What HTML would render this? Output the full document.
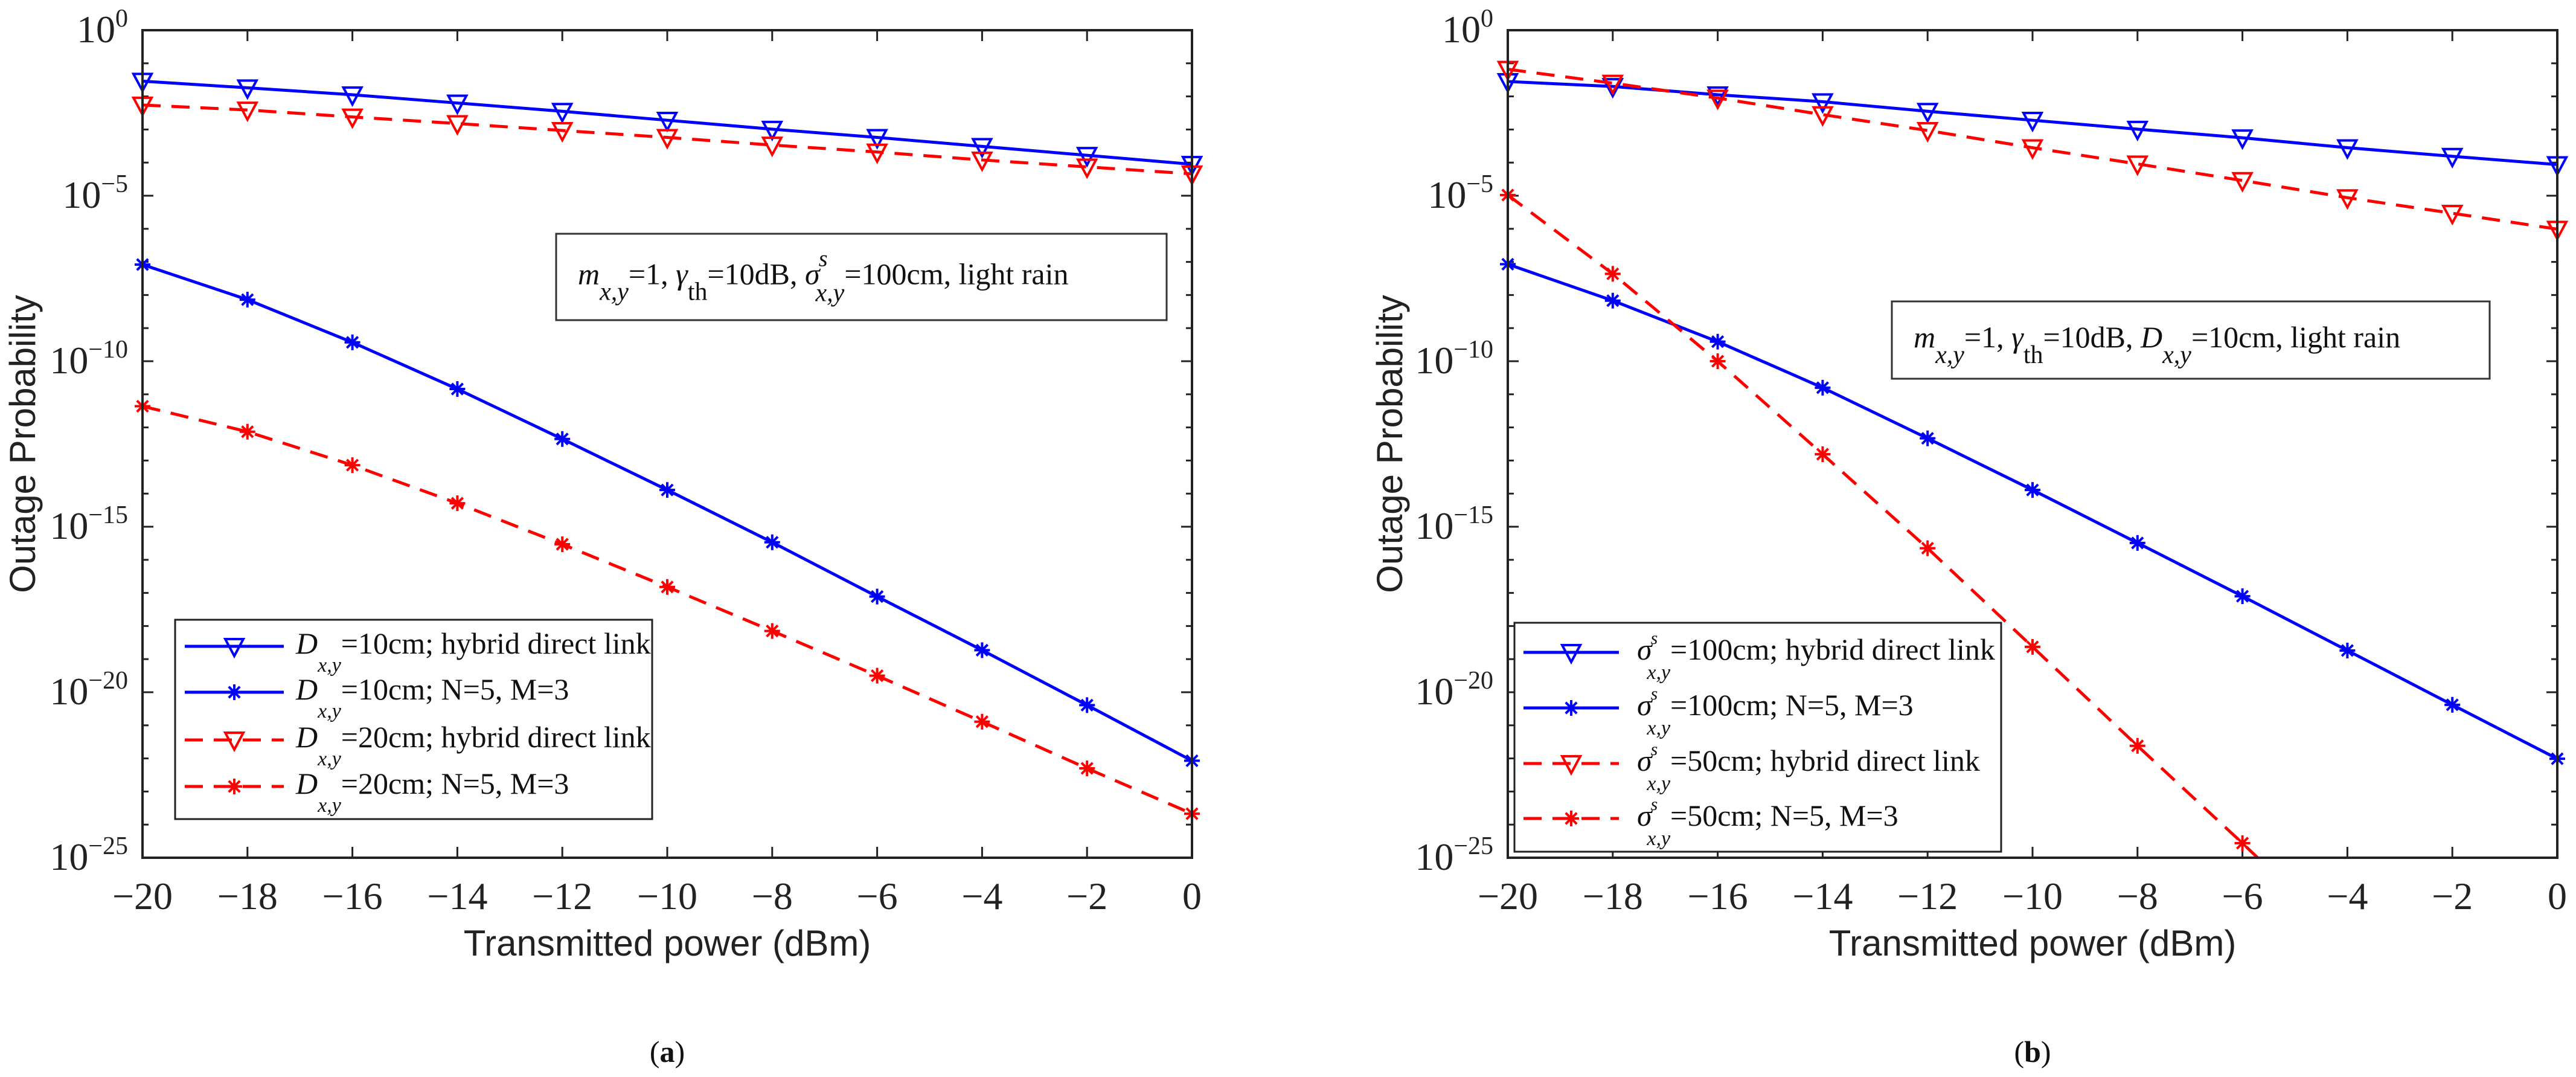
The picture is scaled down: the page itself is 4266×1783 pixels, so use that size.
<!DOCTYPE html>
<html><head><meta charset="utf-8"><style>
html,body{margin:0;background:#fff;overflow:hidden;width:4266px;height:1783px;}
svg{display:block;}
.tk{font-family:"Liberation Serif",serif;font-size:64px;fill:#222;}
.ttl{font-family:"Liberation Sans",sans-serif;font-size:60px;fill:#222;}
.lg{font-family:"Liberation Serif",serif;font-size:50px;fill:#111;}
</style></head><body>
<svg id="fig" width="4266" height="1783" viewBox="0 0 4266 1783" xmlns="http://www.w3.org/2000/svg"></svg>
<script>
const xValues = [-20,-18,-16,-14,-12,-10,-8,-6,-4,-2,0];
const xTicks = [-20,-18,-16,-14,-12,-10,-8,-6,-4,-2,0];
const yTickExps = [0,-5,-10,-15,-20,-25];
// values as -log10(P)
const aBlueTri = [1.54,1.74,1.95,2.20,2.45,2.72,2.99,3.24,3.51,3.78,4.05];
const aRedTri = [2.26,2.41,2.62,2.82,3.03,3.24,3.47,3.68,3.92,4.13,4.34];
const aBlueStar = [7.08,8.14,9.43,10.84,12.35,13.89,15.47,17.11,18.73,20.39,22.07];
const aRedStar = [11.36,12.13,13.14,14.29,15.53,16.82,18.15,19.50,20.89,22.30,23.67];
const bBlueTri = [1.55,1.70,1.95,2.16,2.45,2.72,2.99,3.25,3.55,3.81,4.06];
const bRedTri = [1.18,1.60,2.05,2.55,3.03,3.55,4.04,4.54,5.06,5.53,6.01];
const bBlueStar = [7.07,8.17,9.41,10.80,12.33,13.89,15.49,17.10,18.74,20.38,22.01];
const bRedStar = [4.98,7.36,10.0,12.81,15.65,18.63,21.62,24.56,27.6,30.6,33.6];

const NS='http://www.w3.org/2000/svg';
const svg=document.getElementById('fig');
function mk(tag,attrs,parent){const e=document.createElementNS(NS,tag);for(const k in attrs)e.setAttribute(k,attrs[k]);(parent||svg).appendChild(e);return e;}

function drawChart(id,L,R,T,B,series,legend,annot,panelLabel,ytx,ytitleX){
  const g=mk('g',{});
  
  
  const sx=v=>L+(v-(-20))/20*(R-L);
  const sy=e=>T+(e/25)*(B-T);
  const cp=mk('clipPath',{id:id+'clip'},g);
  mk('rect',{x:L-20,y:T-20,width:R-L+40,height:B-T+20},cp);
  for(const t of xTicks){
    const x=sx(t);
    mk('line',{x1:x,y1:B,x2:x,y2:B-18,stroke:'#222','stroke-width':3},g);
    mk('line',{x1:x,y1:T,x2:x,y2:T+18,stroke:'#222','stroke-width':3},g);
    const tl=mk('text',{x:x,y:B+85,'text-anchor':'middle',class:'tk'},g);
    tl.textContent=(t<0?'\u2212':'')+Math.abs(t);
    
    
  }
  for(let d=0;d<=25;d++){
    const y=sy(d);const len=d%5===0?18:10;
    mk('line',{x1:L,y1:y,x2:L+len,y2:y,stroke:'#222','stroke-width':3},g);
    mk('line',{x1:R,y1:y,x2:R-len,y2:y,stroke:'#222','stroke-width':3},g);
  }
  for(const e of yTickExps){
    const y=sy(-e);
    const tl=mk('text',{x:ytx,y:y+20,'text-anchor':'end',class:'tk'},g);
    
    
    tl.textContent='10';
    const sp=mk('tspan',{dy:-26,'font-size':'42px'},tl);sp.textContent=e===0?'0':'\u2212'+(-e);
  }
  const sg=mk('g',{'clip-path':'url(#'+id+'clip)'},g);
  for(const s of series){
    const pts=s.data.map((v,i)=>sx(xValues[i])+','+sy(v)).join(' ');
    const pl=mk('polyline',{points:pts,fill:'none',stroke:s.color,'stroke-width':5,'stroke-dasharray':s.dash?'30 18':'none'},sg);
    
    
    s.data.forEach((v,i)=>{
      const m=marker(sg,sx(xValues[i]),sy(v),s.marker,s.color);
      
      
    });
  }
  mk('rect',{x:L,y:T,width:R-L,height:B-T,fill:'none',stroke:'#222','stroke-width':4},g);
  const lg=mk('g',{},g);
  
  
  mk('rect',{x:legend.x,y:legend.y,width:legend.w,height:legend.h,fill:'#fff',stroke:'#222','stroke-width':3},lg);
  series.forEach((s,i)=>{
    const y=legend.rows[i];
    const le=mk('g',{},lg);
    
    
    mk('line',{x1:legend.sx1,y1:y,x2:legend.sx2,y2:y,stroke:s.color,'stroke-width':5,'stroke-dasharray':s.dash?'30 18':'none'},le);
    marker(le,(legend.sx1+legend.sx2)/2,y,s.marker,s.color);
    const t=mk('text',{x:legend.tx,y:y+12,class:'lg'},le);
    const a=mk('tspan',{'font-style':'italic'},t);a.textContent=legend.sym;
    if(legend.sup){const b=mk('tspan',{'font-style':'italic','font-size':'30px',dy:-26,dx:-2},t);b.textContent='s';
      const c=mk('tspan',{'font-style':'italic','font-size':'34px',dy:58,dx:-18},t);c.textContent='x,y';}
    else{const c=mk('tspan',{'font-style':'italic','font-size':'34px',dy:30,dx:0},t);c.textContent='x,y';}
    const d=mk('tspan',{dy:legend.sup?-32:-30},t);d.textContent=s.label;
  });
  const an=mk('g',{},g);
  
  
  mk('rect',{x:annot.x,y:annot.y,width:annot.w,height:annot.h,fill:'#fff',stroke:'#333','stroke-width':3},an);
  const at=mk('text',{x:annot.x+36,y:annot.y+annot.h/2+12,class:'lg','font-size':'66px'},an);
  annot.parts.forEach(p=>{const sp=mk('tspan',p.a||{},at);sp.textContent=p.t;});
  const xt=mk('text',{x:(L+R)/2,y:1582,'text-anchor':'middle',class:'ttl'},g);
  xt.textContent='Transmitted power (dBm)';
  
  
  const yx=ytitleX;
  const yt=mk('text',{x:yx,y:(T+B)/2,'text-anchor':'middle',class:'ttl',transform:'rotate(-90 '+yx+' '+(T+B)/2+')'},g);
  yt.textContent='Outage Probability';
  
  
  const pl=mk('text',{x:(L+R)/2,y:1758,'text-anchor':'middle',class:'lg','font-size':'70px'},g);
  
  
  pl.appendChild(document.createTextNode('('));
  const bb=mk('tspan',{'font-weight':'bold'},pl);bb.textContent=panelLabel;
  pl.appendChild(document.createTextNode(')'));
}
function marker(p,x,y,type,color){
  if(type==='tri'){
    return mk('polygon',{points:(x-15)+','+(y-12)+' '+(x+15)+','+(y-12)+' '+x+','+(y+16),fill:'none',stroke:color,'stroke-width':4},p);
  }
  const g=mk('g',{stroke:color,'stroke-width':4},p);
  for(let a=0;a<180;a+=45){const r=a*Math.PI/180;mk('line',{x1:x-13*Math.cos(r),y1:y-13*Math.sin(r),x2:x+13*Math.cos(r),y2:y+13*Math.sin(r)},g);}
  return g;
}
function annParts(last,lastSym,sup){
  const p=[{t:'m',a:{'font-style':'italic'}},{t:'x,y',a:{'font-style':'italic','font-size':'42px',dy:26}},{t:'=1, ',a:{dy:-26}},
    {t:'\u03b3',a:{'font-style':'italic'}},{t:'th',a:{'font-size':'42px',dy:26}},{t:'=10dB,  ',a:{dy:-26}},
    {t:lastSym,a:{'font-style':'italic'}}];
  if(sup){p.push({t:'s',a:{'font-style':'italic','font-size':'38px',dy:-30,dx:-2}});p.push({t:'x,y',a:{'font-style':'italic','font-size':'42px',dy:58,dx:-20}});p.push({t:last,a:{dy:-28}});}
  else {p.push({t:'x,y',a:{'font-style':'italic','font-size':'42px',dy:26}});p.push({t:last,a:{dy:-26}});}
  return p;
}
drawChart('a',236,1974,50,1420,[
  {name:'d10-hybrid-line',data:aBlueTri,color:'#0000ff',dash:false,marker:'tri',label:'=10cm; hybrid direct link'},
  {name:'d10-nm-line',data:aBlueStar,color:'#0000ff',dash:false,marker:'star',label:'=10cm; N=5, M=3'},
  {name:'d20-hybrid-line',data:aRedTri,color:'#ff0000',dash:true,marker:'tri',label:'=20cm; hybrid direct link'},
  {name:'d20-nm-line',data:aRedStar,color:'#ff0000',dash:true,marker:'star',label:'=20cm; N=5, M=3'}],
  {x:290,y:1026,w:790,h:330,rows:[1070,1146,1225,1302],sx1:306,sx2:470,tx:490,sym:'D',sup:false},
  {x:921,y:387,w:1011,h:143,parts:annParts('=100cm, light rain','\u03c3',true)},'a',212,58);
drawChart('b',2497,4235,50,1420,[
  {name:'s100-hybrid-line',data:bBlueTri,color:'#0000ff',dash:false,marker:'tri',label:'=100cm; hybrid direct link'},
  {name:'s100-nm-line',data:bBlueStar,color:'#0000ff',dash:false,marker:'star',label:'=100cm; N=5, M=3'},
  {name:'s50-hybrid-line',data:bRedTri,color:'#ff0000',dash:true,marker:'tri',label:'=50cm; hybrid direct link'},
  {name:'s50-nm-line',data:bRedStar,color:'#ff0000',dash:true,marker:'star',label:'=50cm; N=5, M=3'}],
  {x:2508,y:1031,w:806,h:379,rows:[1080,1172,1264,1355],sx1:2523,sx2:2681,tx:2711,sym:'\u03c3',sup:true},
  {x:3133,y:499,w:990,h:128,parts:annParts('=10cm, light rain','D',false)},'b',2473,2322);
</script>
</body></html>
